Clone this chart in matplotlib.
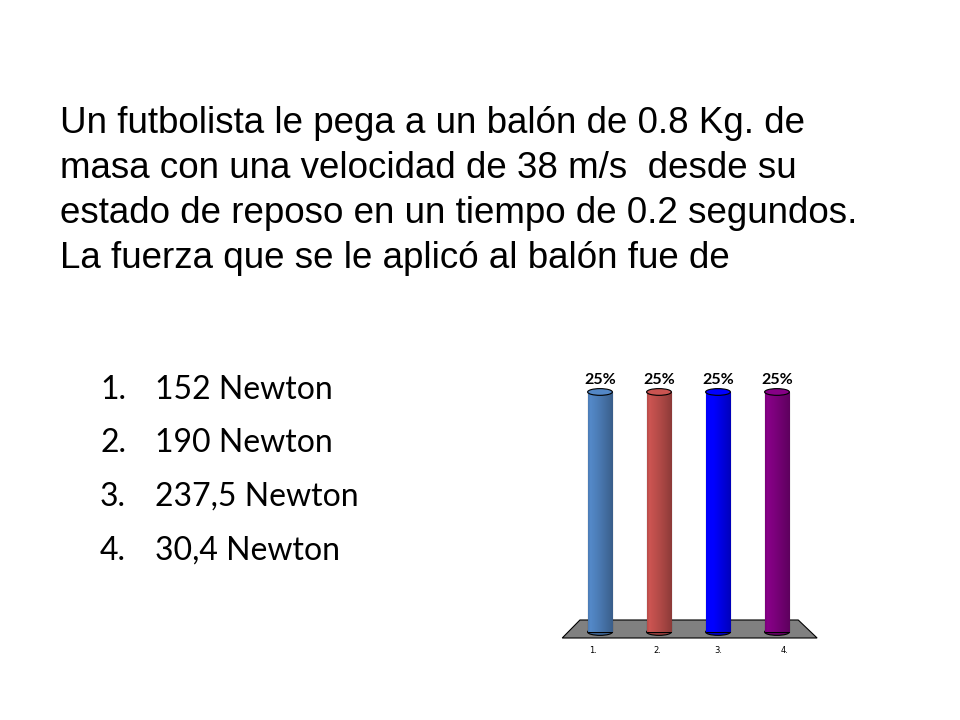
import numpy as np
import matplotlib
matplotlib.use("Agg")
import matplotlib.pyplot as plt
import matplotlib.patches as patches
from matplotlib.colors import to_rgb

# datos
pregunta = ["Un futbolista le pega a un balón de 0.8 Kg. de",
            "masa con una velocidad de 38 m/s  desde su",
            "estado de reposo en un tiempo de 0.2 segundos.",
            "La fuerza que se le aplicó al balón fue de"]
opciones = ["152 Newton", "190 Newton", "237,5 Newton", "30,4 Newton"]
categorias = ["1.", "2.", "3.", "4."]
porcentajes = [25, 25, 25, 25]
colores = ["#4F81BD", "#C0504D", "#0000FF", "#800080"]

W, H = 960, 720
fig = plt.figure(figsize=(W / 100, H / 100), dpi=100)
fig.patch.set_facecolor("white")

# texto de la pregunta
for i, linea in enumerate(pregunta):
    fig.text(60 / W, 1 - (133 + i * 45) / H, linea, fontsize=26.5,
             family="Liberation Sans", ha="left", va="baseline")

# opciones
for i, op in enumerate(opciones):
    y = 1 - (399 + i * 53.5) / H
    fig.text(100 / W, y, f"{i + 1}.", fontsize=23, family="Lato", ha="left", va="baseline")
    fig.text(155 / W, y, op, fontsize=23, family="Lato", ha="left", va="baseline")

# grafico
ax = fig.add_axes([540 / W, 1 - 660 / H, 300 / W, 300 / H])
ax.set_xlim(-1.017, 4.068)
ax.set_ylim(-2.917, 28.33)
ax.axis("off")

# piso
piso = patches.Polygon([(-0.64, -0.625), (3.68, -0.625), (3.36, 1.25), (-0.34, 1.25)],
                       closed=True, facecolor="#808080", edgecolor="black", linewidth=0.8, zorder=1)
ax.add_patch(piso)

ancho = 0.42
eh = 0.7
x = np.arange(len(categorias))
barras = ax.bar(x, porcentajes, width=ancho, color=colores, edgecolor="black",
                linewidth=0.8, zorder=3)

grad = np.linspace(0, 1, 64)
for b, c, v in zip(barras, colores, porcentajes):
    rgb = np.array(to_rgb(c))
    # sombreado cilindrico: claro a la izquierda, oscuro a la derecha
    shade = 1.08 - 0.35 * grad ** 1.2
    shade[:8] = np.linspace(0.95, 1.08, 8)
    img = np.clip(rgb[None, :] * shade[:, None], 0, 1)[None, :, :]
    x0 = b.get_x()
    im = ax.imshow(img, extent=[x0, x0 + ancho, 0, v], aspect="auto", zorder=3.5,
                   interpolation="bilinear")
    im.set_clip_path(b)
    # fondo y tapa
    base = patches.Ellipse((x0 + ancho / 2, 0), ancho, eh, facecolor=rgb * 0.8,
                           edgecolor="black", linewidth=0.8, zorder=2.9)
    ax.add_patch(base)
    tapa = patches.Ellipse((x0 + ancho / 2, v), ancho, eh, facecolor=np.clip(rgb * 1.05, 0, 1),
                           edgecolor="black", linewidth=0.8, zorder=4)
    ax.add_patch(tapa)
    ax.text(x0 + ancho / 2, v + 0.55, f"{v}%", ha="center", va="bottom", fontsize=11.5,
            fontweight="bold", family="Lato", zorder=5)

# etiquetas del eje (con la perspectiva del piso)
desplaz = [-0.12, -0.035, 0.0, 0.135]
for xi, lab, d in zip(x, categorias, desplaz):
    ax.text(xi + d, -1.9, lab, ha="center", va="center", fontsize=6,
            family="DejaVu Sans")

fig.savefig("out.png", dpi=100)
